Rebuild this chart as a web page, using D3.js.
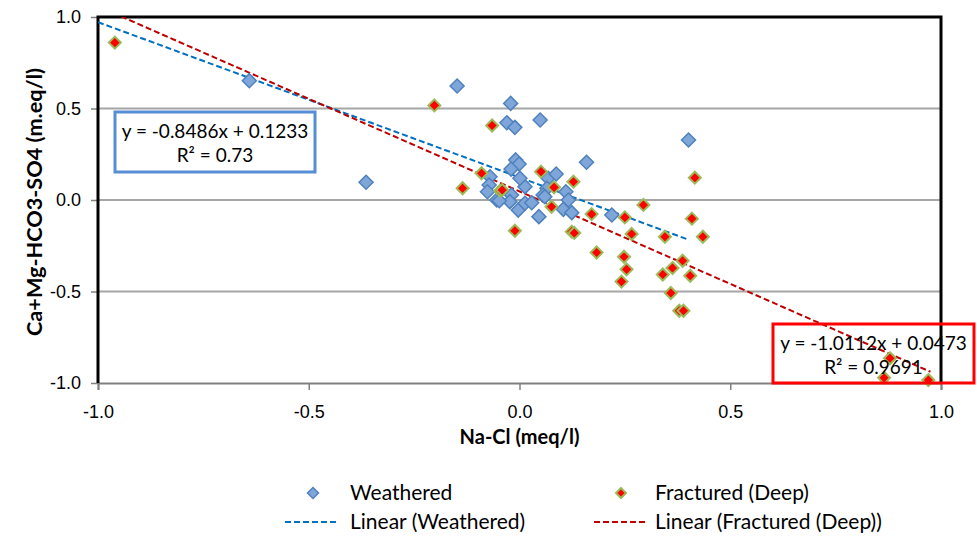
<!DOCTYPE html>
<html>
<head>
<meta charset="utf-8">
<script src="https://cdn.jsdelivr.net/npm/d3@7"></script>
<style>
  body { margin: 0; background: #fff; }
  svg { font-family: Lato, "Open Sans", sans-serif; }
</style>
</head>
<body>
<div id="chart"></div>
<script>
// Weathered samples (Na-Cl, Ca+Mg-HCO3-SO4)
const weatheredX = [-0.641, -0.148, -0.364, -0.021, -0.030, -0.011, 0.049, 0.401, 0.159, -0.009,
  -0.001, -0.020, -0.070, -0.072, -0.076, -0.054, -0.019, -0.023, -0.003, 0.013,
  0.029, 0.013, 0.001, 0.068, 0.087, 0.065, 0.056, 0.104, 0.124, 0.110,
  0.116, 0.219, 0.046, 0.060, -0.048];
const weatheredY = [0.652, 0.623, 0.097, 0.528, 0.422, 0.397, 0.437, 0.328, 0.206, 0.219,
  0.197, 0.169, 0.127, 0.082, 0.045, 0.000, 0.027, -0.009, -0.055, -0.018,
  -0.015, 0.073, 0.119, 0.119, 0.142, 0.064, 0.027, -0.051, -0.069, 0.045,
  0.000, -0.082, -0.091, 0.018, -0.004];

// Fractured (Deep) samples
const fracturedX = [-0.960, -0.202, -0.065, -0.090, -0.135, -0.046, 0.051, 0.082, 0.128, 0.076,
  0.171, 0.250, 0.294, -0.011, 0.124, 0.183, 0.266, 0.248, 0.254, 0.242,
  0.345, 0.416, 0.409, 0.435, 0.387, 0.363, 0.340, 0.405, 0.359, 0.379,
  0.389, 0.879, 0.865, 0.970, 0.130, -0.041];
const fracturedY = [0.860, 0.517, 0.407, 0.146, 0.064, 0.051, 0.155, 0.069, 0.100, -0.037,
  -0.077, -0.095, -0.027, -0.168, -0.173, -0.287, -0.186, -0.310, -0.379, -0.446,
  -0.201, 0.122, -0.102, -0.201, -0.332, -0.372, -0.407, -0.414, -0.508, -0.605,
  -0.605, -0.865, -0.971, -0.984, -0.180, 0.055];

// trendlines: slope, intercept, x range
const weatheredFit = [-0.8486, 0.1233, -1.0, 0.40];
const fracturedFit = [-1.0112, 0.0473, -0.965, 0.975];

const xTicks = [-1.0, -0.5, 0.0, 0.5, 1.0];
const yTicks = [-1.0, -0.5, 0.0, 0.5, 1.0];

const width = 977, height = 538;
const svg = d3.select("#chart").append("svg")
  .attr("width", width).attr("height", height);

const x = d3.scaleLinear().domain([-1, 1]).range([98, 941]);
const y = d3.scaleLinear().domain([-1, 1]).range([383, 17]);
const fmt = d => d.toFixed(1);

svg.append("clipPath").attr("id", "plot")
  .append("rect").attr("x", 98).attr("y", 17).attr("width", 843).attr("height", 366);

// gridlines
svg.append("g")
  .selectAll("line")
  .data(yTicks.filter(d => d > -1 && d < 1))
  .join("line")
  .attr("x1", x(-1)).attr("x2", x(1))
  .attr("y1", d => y(d)).attr("y2", d => y(d))
  .attr("stroke", "#a6a6a6").attr("stroke-width", 2);

// axes
svg.append("g")
  .attr("transform", `translate(0, ${y(-1)})`)
  .call(d3.axisBottom(x).tickValues(xTicks).tickFormat(fmt).tickSize(7).tickPadding(15))
  .call(g => g.select(".domain").attr("stroke", "#808080").attr("stroke-width", 2))
  .call(g => g.selectAll(".tick line").attr("stroke", "#808080").attr("stroke-width", 1.5))
  .call(g => g.selectAll("text").attr("font-size", 18).attr("fill", "#000"));

svg.append("g")
  .attr("transform", `translate(${x(-1)}, 0)`)
  .call(d3.axisLeft(y).tickValues(yTicks).tickFormat(fmt).tickSize(7).tickPadding(10))
  .call(g => g.select(".domain").remove())
  .call(g => g.selectAll(".tick line").attr("stroke", "#808080").attr("stroke-width", 1.5))
  .call(g => g.selectAll("text").attr("font-size", 18).attr("fill", "#000"));

// plot border (left, top, right)
svg.append("path")
  .attr("d", `M${x(-1)},${y(-1)}V${y(1)}H${x(1)}V${y(-1)}`)
  .attr("fill", "none").attr("stroke", "#000").attr("stroke-width", 3);

// trendlines
const lines = svg.append("g").attr("clip-path", "url(#plot)");
[[weatheredFit, "#0070c0"], [fracturedFit, "#c00000"]].forEach(([f, c]) => {
  lines.append("line")
    .attr("x1", x(f[2])).attr("y1", y(f[0] * f[2] + f[1]))
    .attr("x2", x(f[3])).attr("y2", y(f[0] * f[3] + f[1]))
    .attr("stroke", c).attr("stroke-width", 2).attr("stroke-dasharray", "6,3");
});

const diamond = s => `M0,${-s}L${s},0L0,${s}L${-s},0Z`;

const weathered = weatheredX.map((v, i) => ({ x: v, y: weatheredY[i] }));
const fractured = fracturedX.map((v, i) => ({ x: v, y: fracturedY[i] }));

svg.append("g")
  .selectAll("path")
  .data(weathered)
  .join("path")
  .attr("d", diamond(7))
  .attr("transform", d => `translate(${x(d.x)},${y(d.y)})`)
  .attr("fill", "#7fa6d9").attr("stroke", "#4f81bd").attr("stroke-width", 1.5);

svg.append("g")
  .selectAll("path")
  .data(fractured)
  .join("path")
  .attr("d", diamond(6))
  .attr("transform", d => `translate(${x(d.x)},${y(d.y)})`)
  .attr("fill", "#ff0000").attr("stroke", "#9bbb59").attr("stroke-width", 2);

// equation boxes (transparent, like Excel trendline labels)
function eqBox(bx, by, bw, bh, color, lines) {
  svg.append("rect")
    .attr("x", bx).attr("y", by).attr("width", bw).attr("height", bh)
    .attr("fill", "none").attr("stroke", color).attr("stroke-width", 3);
  lines.forEach((t, i) => {
    svg.append("text")
      .attr("x", bx + bw / 2).attr("y", by + 26 + i * 24)
      .attr("text-anchor", "middle").attr("font-size", 19)
      .text(t);
  });
}
eqBox(115, 112, 200, 60, "#558ed5", ["y = -0.8486x + 0.1233", "R² = 0.73"]);
eqBox(773, 324, 201, 59, "#ff0000", ["y = -1.0112x + 0.0473", "R² = 0.9691"]);

// axis titles
svg.append("text")
  .attr("x", x(0)).attr("y", 444)
  .attr("text-anchor", "middle").attr("font-size", 20).attr("font-weight", "bold")
  .text("Na-Cl (meq/l)");

svg.append("text")
  .attr("transform", "rotate(-90)")
  .attr("x", -202).attr("y", 42)
  .attr("text-anchor", "middle").attr("font-size", 20).attr("font-weight", "bold")
  .attr("textLength", 268).attr("lengthAdjust", "spacingAndGlyphs")
  .text("Ca+Mg-HCO3-SO4 (m.eq/l)");

// legend
const legend = svg.append("g").attr("font-size", 21);
legend.append("path").attr("d", diamond(5.5)).attr("transform", "translate(313,493)")
  .attr("fill", "#7fa6d9").attr("stroke", "#4f81bd").attr("stroke-width", 1.5);
legend.append("text").attr("x", 350).attr("y", 500).text("Weathered");
legend.append("path").attr("d", diamond(5)).attr("transform", "translate(621,493)")
  .attr("fill", "#ff0000").attr("stroke", "#9bbb59").attr("stroke-width", 2);
legend.append("text").attr("x", 655).attr("y", 500).text("Fractured (Deep)");
legend.append("line").attr("x1", 285).attr("x2", 339).attr("y1", 522).attr("y2", 522)
  .attr("stroke", "#0070c0").attr("stroke-width", 2).attr("stroke-dasharray", "6,3");
legend.append("text").attr("x", 350).attr("y", 529).text("Linear (Weathered)");
legend.append("line").attr("x1", 594).attr("x2", 648).attr("y1", 522).attr("y2", 522)
  .attr("stroke", "#c00000").attr("stroke-width", 2).attr("stroke-dasharray", "6,3");
legend.append("text").attr("x", 655).attr("y", 529).text("Linear (Fractured (Deep))");
</script>
</body>
</html>
